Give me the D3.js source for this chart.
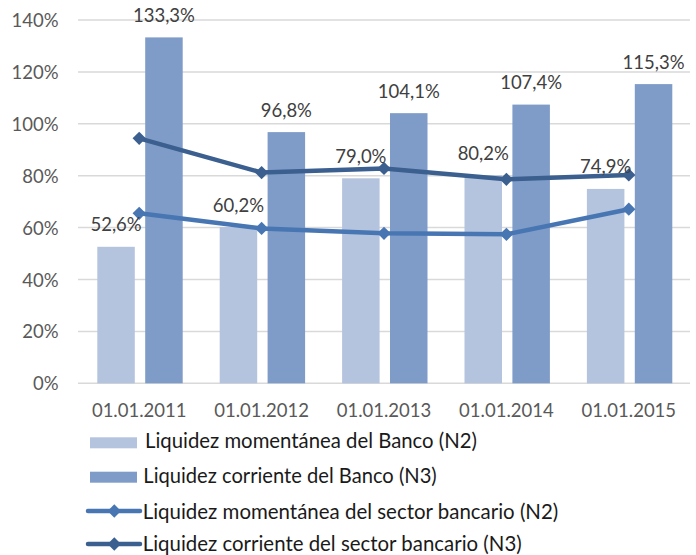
<!DOCTYPE html>
<html>
<head>
<meta charset="utf-8">
<script src="https://cdn.jsdelivr.net/npm/d3@7"></script>
<style>
  body { margin: 0; background: #fff; }
  svg text { font-family: Lato, "Open Sans", sans-serif; }
</style>
</head>
<body>
<svg id="chart" width="696" height="555"></svg>
<script>
// data
var categories = ["01.01.2011", "01.01.2012", "01.01.2013", "01.01.2014", "01.01.2015"];
var bankN2 = [0.526, 0.602, 0.790, 0.802, 0.749];
var bankN3 = [1.333, 0.968, 1.041, 1.074, 1.153];
var sectorN2 = [0.655, 0.597, 0.578, 0.574, 0.671];
var sectorN3 = [0.944, 0.812, 0.828, 0.786, 0.803];
var yTicks = [0, 0.2, 0.4, 0.6, 0.8, 1.0, 1.2, 1.4];
var legendNames = [
  "Liquidez momentánea del Banco (N2)",
  "Liquidez corriente del Banco (N3)",
  "Liquidez momentánea del sector bancario (N2)",
  "Liquidez corriente del sector bancario (N3)"
];

var colLight = "#b4c4de", colDark = "#7f9cc8";
var colLineN2 = "#4776b3", colLineN3 = "#3b5f8f";

var svg = d3.select("#chart");

// scales
var x = d3.scaleBand().domain(categories).range([78, 690]);
var x1 = d3.scaleBand().domain(["n2", "n3"]).range([19.3, 104.7]).paddingInner(0.217);
var y = d3.scaleLinear().domain([0, 1.4]).range([383.3, 20]);

var pct = function(v) { return d3.format(".1f")(v * 100).replace(".", ",") + "%"; };

// gridlines
svg.append("g").selectAll("line")
    .data(yTicks)
    .enter().append("line")
    .attr("x1", 78).attr("x2", 690)
    .attr("y1", function(d) { return y(d); })
    .attr("y2", function(d) { return y(d); })
    .attr("stroke", "#d9d9d9")
    .attr("stroke-width", 1.5);

// y tick labels
svg.append("g").selectAll("text")
    .data(yTicks)
    .enter().append("text")
    .attr("x", 58.5)
    .attr("y", function(d) { return y(d) + 7; })
    .attr("text-anchor", "end")
    .attr("font-size", 18.5)
    .attr("fill", "#595959")
    .text(function(d) { return Math.round(d * 100) + "%"; });

// x labels
svg.append("g").selectAll("text")
    .data(categories)
    .enter().append("text")
    .attr("x", function(d) { return x(d) + x.bandwidth() / 2; })
    .attr("y", 417.3)
    .attr("text-anchor", "middle")
    .attr("font-size", 18.5)
    .attr("fill", "#595959")
    .text(function(d) { return d; });

// bars
var barData = [];
categories.forEach(function(c, i) {
    barData.push({cat: c, key: "n2", v: bankN2[i], fill: colLight});
    barData.push({cat: c, key: "n3", v: bankN3[i], fill: colDark});
});

svg.append("g").selectAll("rect")
    .data(barData)
    .enter().append("rect")
    .attr("x", function(d) { return x(d.cat) + x1(d.key); })
    .attr("y", function(d) { return y(d.v); })
    .attr("width", x1.bandwidth())
    .attr("height", function(d) { return y(0) - y(d.v); })
    .attr("fill", function(d) { return d.fill; });

// lines + diamonds
var diamond = d3.symbol().type(d3.symbolSquare).size(88);
var line = d3.line()
    .x(function(d, i) { return x(categories[i]) + x.bandwidth() / 2; })
    .y(function(d) { return y(d); });

[[sectorN2, colLineN2], [sectorN3, colLineN3]].forEach(function(s) {
    var g = svg.append("g");
    g.append("path")
        .attr("d", line(s[0]))
        .attr("fill", "none")
        .attr("stroke", s[1])
        .attr("stroke-width", 4.5)
        .attr("stroke-linejoin", "round");
    g.selectAll("path.m")
        .data(s[0])
        .enter().append("path")
        .attr("class", "m")
        .attr("d", diamond)
        .attr("transform", function(d, i) {
            return "translate(" + (x(categories[i]) + x.bandwidth() / 2) + "," + y(d) + ") rotate(45)";
        })
        .attr("fill", s[1]);
});

// data labels
svg.append("g").selectAll("text")
    .data(barData)
    .enter().append("text")
    .attr("x", function(d) { return x(d.cat) + x1(d.key) + x1.bandwidth() / 2; })
    .attr("y", function(d) { return y(d.v) - 15.5; })
    .attr("text-anchor", "middle")
    .attr("font-size", 18.5)
    .attr("fill", "#404040")
    .text(function(d) { return pct(d.v); });

// legend
var leg = svg.append("g");
var legRows = [
    {type: "bar", color: colLight, sy: 437.3, tx: 145, ty: 448.3, w: 332},
    {type: "bar", color: colDark, sy: 471.7, tx: 143.3, ty: 483.3, w: 293.4},
    {type: "line", color: colLineN2, sy: 511, tx: 142.7, ty: 518.5, w: 415.6},
    {type: "line", color: colLineN3, sy: 544, tx: 142.7, ty: 550.5, w: 379}
];
legRows.forEach(function(r, i) {
    if (r.type === "bar") {
        leg.append("rect")
            .attr("x", 90).attr("y", r.sy)
            .attr("width", 47).attr("height", 11)
            .attr("fill", r.color);
    } else {
        leg.append("line")
            .attr("x1", 88).attr("x2", 140)
            .attr("y1", r.sy).attr("y2", r.sy)
            .attr("stroke", r.color)
            .attr("stroke-width", 4.5)
            .attr("stroke-linecap", "round");
        leg.append("path")
            .attr("d", diamond)
            .attr("transform", "translate(114.3," + r.sy + ") rotate(45)")
            .attr("fill", r.color);
    }
    leg.append("text")
        .attr("x", r.tx)
        .attr("y", r.ty)
        .attr("font-size", 21.5)
        .attr("fill", "#1a1a1a")
        .attr("textLength", r.w)
        .attr("lengthAdjust", "spacingAndGlyphs")
        .text(legendNames[i]);
});
</script>
</body>
</html>
